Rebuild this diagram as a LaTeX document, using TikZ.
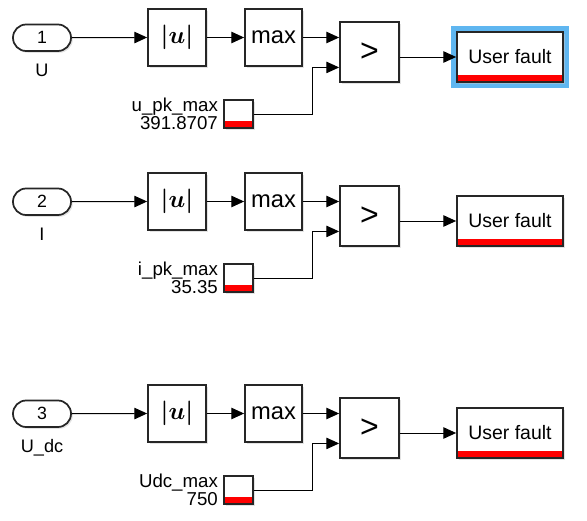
\documentclass[tikz,border=0pt]{standalone}
\usepackage{fix-cm}
\usepackage{bm}
\usepackage{fontspec}
\setmainfont{Liberation Sans}
\usetikzlibrary{arrows.meta,shadows,calc,backgrounds}
\definecolor{selblue}{RGB}{95,182,240}
\definecolor{fred}{RGB}{255,0,0}
\newcommand{\absu}{$\bm{|}\bm{u}\bm{|}$}
\begin{document}
\begin{tikzpicture}[x=0.75pt,y=-0.75pt,
  blk/.style={draw=black!85, line width=1.3pt, fill=white, inner sep=0pt,
    drop shadow={shadow xshift=1.3pt,shadow yshift=-1.3pt,fill=black!22}},
  port/.style={blk, rounded corners=9.9pt, minimum width=43.5pt, minimum height=19.9pt,
    font=\fontsize{13.3}{15}\selectfont},
  sq/.style={blk, minimum width=43.5pt, minimum height=42.75pt},
  cmpbox/.style={blk, minimum width=44.25pt, minimum height=45pt,
    font=\fontsize{24}{24}\selectfont},
  redbar/.style={path picture={\fill[fred] (path picture bounding box.south west)
      rectangle ([yshift=#1]path picture bounding box.south east);}},
  cst/.style={blk, minimum width=21.75pt, minimum height=21pt, redbar=5.4pt},
  uf/.style={blk, minimum width=79.5pt, minimum height=37.5pt, redbar=5.4pt,
    font=\fontsize{14.6}{16}\selectfont},
  lbl/.style={inner sep=0pt, font=\fontsize{13.6}{15}\selectfont},
  clbl/.style={inner sep=0pt, align=right, font=\fontsize{14}{13.5}\selectfont},
  wire/.style={line width=0.75pt, -{Triangle[length=9.5pt,width=8.5pt]}},
  ]
\useasboundingbox (0,0) rectangle (587,521);
\foreach \o/\n/\lab/\cn/\cv in {0/1/U/u\_pk\_max/391.8707, 164/2/I/i\_pk\_max/35.35, 376/3/U\_dc/Udc\_max/750}{
  \node[port] (in\n) at (42,37.75+\o) {\n};
  \node[lbl, anchor=base] (lab\n) at (42,76+\o) {\lab};
  \node[sq, font=\fontsize{18.5}{20}\selectfont] (abs\n) at (177,37.5+\o) {\absu};
  \node[sq, minimum width=42.75pt, font=\fontsize{17.8}{20}\selectfont] (max\n) at (273.5,37.5+\o) {max};
  \node[cmpbox] (cmp\n) at (369.5,52+\o) {>};
  \node[cst] (cst\n) at (238.5,114+\o) {};
  \node[clbl, anchor=east] (cl\n) at ([xshift=-3.75pt]cst\n.west) {\cn\\\cv};
  \node[uf] (uf\n) at (510,57+\o) {User fault};
  \draw[wire] (in\n.east) -- (abs\n.west);
  \draw[wire] (abs\n.east) -- (max\n.west);
  \draw[wire] (max\n.east) -- (max\n.east -| cmp\n.west);
  \draw[wire] (cst\n.east) -- ++(59,0) |- ($(cmp\n.west)!0.5!(cmp\n.south west)$);
  \draw[wire] (uf\n.west -| cmp\n.east) -- (uf\n.west);
}
\begin{scope}[on background layer]
  \fill[selblue] ($(uf1.north west)+(-5.5,-5.5)$) rectangle ($(uf1.south east)+(5.5,5.5)$);
\end{scope}
\end{tikzpicture}
\end{document}
